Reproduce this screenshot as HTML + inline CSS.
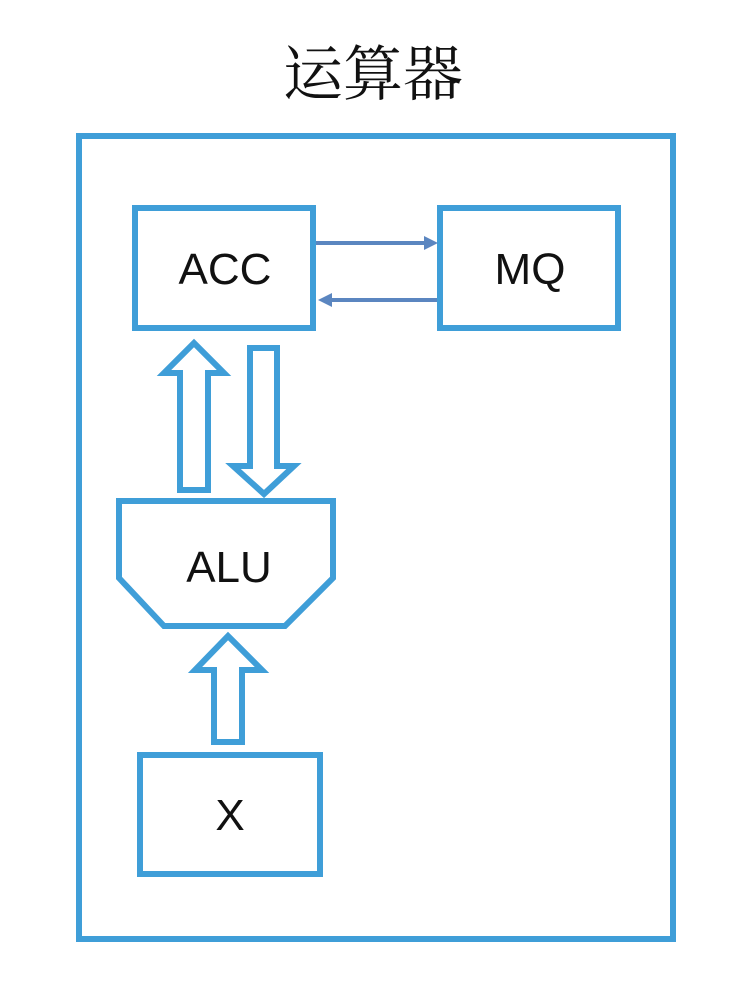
<!DOCTYPE html>
<html><head><meta charset="utf-8"><style>
html,body{margin:0;padding:0;background:#fff;}
svg{display:block;}
</style></head><body>
<svg width="736" height="1002" viewBox="0 0 736 1002" xmlns="http://www.w3.org/2000/svg">
<rect width="736" height="1002" fill="#fff"/>
<text x="373" y="95" text-anchor="middle" font-family="'Noto Serif CJK SC','Noto Sans CJK SC',serif" font-size="60" fill="#111">运算器</text>
<g fill="none" stroke="#3f9ed8" stroke-width="6">
<rect x="79" y="136" width="594" height="803"/>
<rect x="135" y="208" width="178" height="120"/>
<rect x="440" y="208" width="178" height="120"/>
<rect x="140" y="755" width="180" height="119"/>
<polygon points="119,501 333,501 333,578 285,626 164,626 119,578"/>
<polygon points="180,490 208,490 208,373 224,373 194,343 164,373 180,373"/>
<polygon points="250,348 277,348 277,466 294,466 264,494 233,466 250,466"/>
<polygon points="214,742 242,742 242,670 262,670 228,636 195,670 214,670"/>
</g>
<g stroke="#5b86c0" stroke-width="4" fill="#5b86c0">
<line x1="316" y1="243" x2="426" y2="243"/>
<polygon points="438,243 424,236 424,250" stroke="none"/>
<line x1="437" y1="300" x2="330" y2="300"/>
<polygon points="318,300 332,293 332,307" stroke="none"/>
</g>
<g font-family="'Liberation Sans',sans-serif" font-size="44" fill="#111" text-anchor="middle">
<text x="225" y="284">ACC</text>
<text x="530" y="284">MQ</text>
<text x="229" y="582">ALU</text>
<text x="230" y="830">X</text>
</g>
</svg>
</body></html>
